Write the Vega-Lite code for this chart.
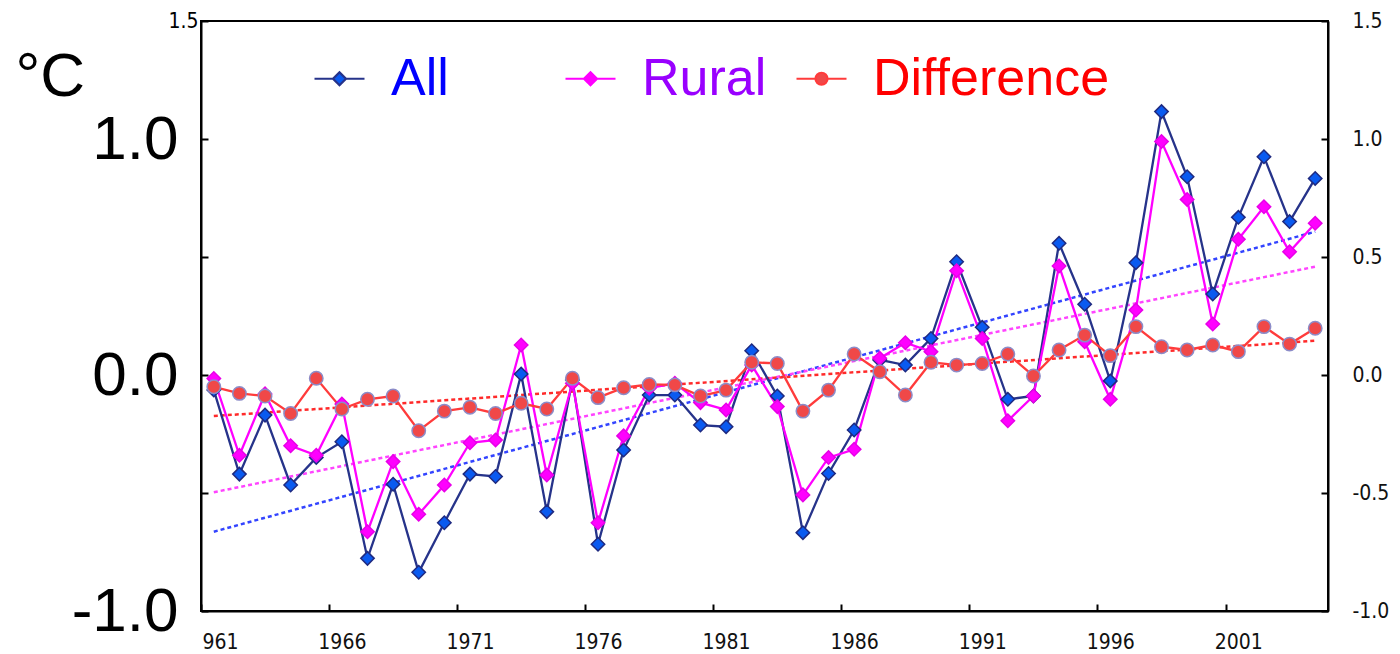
{
  "$schema": "https://vega.github.io/schema/vega-lite/v6.json",
  "width": 1127,
  "height": 590,
  "autosize": "none",
  "padding": {"left": 201, "top": 21, "right": 72, "bottom": 43},
  "background": "white",
  "datasets": {
    "series": [
      {"year": 1961, "All": -0.064, "Rural": -0.015, "Difference": -0.05},
      {"year": 1962, "All": -0.42, "Rural": -0.34, "Difference": -0.078},
      {"year": 1963, "All": -0.17, "Rural": -0.08, "Difference": -0.089},
      {"year": 1964, "All": -0.466, "Rural": -0.3, "Difference": -0.163},
      {"year": 1965, "All": -0.35, "Rural": -0.34, "Difference": -0.014},
      {"year": 1966, "All": -0.283, "Rural": -0.123, "Difference": -0.144},
      {"year": 1967, "All": -0.777, "Rural": -0.664, "Difference": -0.103},
      {"year": 1968, "All": -0.463, "Rural": -0.367, "Difference": -0.089},
      {"year": 1969, "All": -0.836, "Rural": -0.59, "Difference": -0.236},
      {"year": 1970, "All": -0.626, "Rural": -0.466, "Difference": -0.153},
      {"year": 1971, "All": -0.42, "Rural": -0.287, "Difference": -0.137},
      {"year": 1972, "All": -0.43, "Rural": -0.275, "Difference": -0.163},
      {"year": 1973, "All": 0.004, "Rural": 0.127, "Difference": -0.12},
      {"year": 1974, "All": -0.579, "Rural": -0.424, "Difference": -0.144},
      {"year": 1975, "All": -0.021, "Rural": -0.035, "Difference": -0.014},
      {"year": 1976, "All": -0.717, "Rural": -0.626, "Difference": -0.096},
      {"year": 1977, "All": -0.318, "Rural": -0.258, "Difference": -0.054},
      {"year": 1978, "All": -0.085, "Rural": -0.056, "Difference": -0.04},
      {"year": 1979, "All": -0.085, "Rural": -0.035, "Difference": -0.042},
      {"year": 1980, "All": -0.212, "Rural": -0.117, "Difference": -0.089},
      {"year": 1981, "All": -0.219, "Rural": -0.148, "Difference": -0.064},
      {"year": 1982, "All": 0.103, "Rural": 0.042, "Difference": 0.054},
      {"year": 1983, "All": -0.089, "Rural": -0.134, "Difference": 0.049},
      {"year": 1984, "All": -0.668, "Rural": -0.508, "Difference": -0.153},
      {"year": 1985, "All": -0.417, "Rural": -0.35, "Difference": -0.064},
      {"year": 1986, "All": -0.233, "Rural": -0.315, "Difference": 0.089},
      {"year": 1987, "All": 0.064, "Rural": 0.071, "Difference": 0.014},
      {"year": 1988, "All": 0.042, "Rural": 0.137, "Difference": -0.085},
      {"year": 1989, "All": 0.155, "Rural": 0.099, "Difference": 0.054},
      {"year": 1990, "All": 0.48, "Rural": 0.442, "Difference": 0.042},
      {"year": 1991, "All": 0.202, "Rural": 0.155, "Difference": 0.049},
      {"year": 1992, "All": -0.103, "Rural": -0.194, "Difference": 0.089},
      {"year": 1993, "All": -0.089, "Rural": -0.089, "Difference": -0.004},
      {"year": 1994, "All": 0.558, "Rural": 0.462, "Difference": 0.106},
      {"year": 1995, "All": 0.3, "Rural": 0.141, "Difference": 0.169},
      {"year": 1996, "All": -0.025, "Rural": -0.103, "Difference": 0.082},
      {"year": 1997, "All": 0.476, "Rural": 0.275, "Difference": 0.205},
      {"year": 1998, "All": 1.116, "Rural": 0.989, "Difference": 0.12},
      {"year": 1999, "All": 0.84, "Rural": 0.744, "Difference": 0.106},
      {"year": 2000, "All": 0.343, "Rural": 0.216, "Difference": 0.127},
      {"year": 2001, "All": 0.668, "Rural": 0.575, "Difference": 0.099},
      {"year": 2002, "All": 0.925, "Rural": 0.713, "Difference": 0.205},
      {"year": 2003, "All": 0.65, "Rural": 0.522, "Difference": 0.131},
      {"year": 2004, "All": 0.833, "Rural": 0.643, "Difference": 0.198}
    ],
    "trend": [
      {"series": "All", "year": 1961, "value": -0.664},
      {"series": "All", "year": 2004, "value": 0.607},
      {"series": "Rural", "year": 1961, "value": -0.497},
      {"series": "Rural", "year": 2004, "value": 0.459},
      {"series": "Difference", "year": 1961, "value": -0.174},
      {"series": "Difference", "year": 2004, "value": 0.145}
    ]
  },
  "layer": [
    {
      "mark": {"type": "rule", "stroke": "#222222", "strokeWidth": 2, "strokeDash": [17, 6, 3, 6]},
      "encoding": {
        "y": {"datum": 0, "type": "quantitative", "scale": {"domain": [-1, 1.5], "nice": false, "zero": false}, "axis": null}
      }
    },
    {
      "data": {"name": "trend"},
      "mark": {"type": "line", "strokeWidth": 2.5, "strokeDash": [4, 3]},
      "encoding": {
        "x": {"field": "year", "type": "quantitative", "scale": {"domain": [1960.5, 2004.5], "nice": false, "zero": false}, "axis": null},
        "y": {
          "field": "value", "type": "quantitative",
          "scale": {"domain": [-1, 1.5], "nice": false, "zero": false},
          "axis": {
            "orient": "right", "title": null,
            "values": [-1, -0.5, 0, 0.5, 1, 1.5],
            "labelExpr": "datum.value < 0 ? '-' + format(-datum.value, '.1f') : format(datum.value, '.1f')",
            "labelFont": "DejaVu Sans Condensed, DejaVu Sans",
            "labelFontSize": 21,
            "labelColor": "#111111",
            "labelPadding": 31,
            "labelOverlap": false
          }
        },
        "stroke": {
          "field": "series", "type": "nominal",
          "scale": {"domain": ["All", "Rural", "Difference"], "range": ["#3344FF", "#FF44FF", "#FF2A2A"]},
          "legend": null
        },
        "detail": {"field": "series"}
      }
    },
    {
      "data": {"name": "series"},
      "transform": [{"fold": ["All", "Rural", "Difference"], "as": ["series", "value"]}],
      "mark": {"type": "line", "strokeWidth": 2.3},
      "encoding": {
        "x": {
          "field": "year", "type": "quantitative",
          "scale": {"domain": [1960.5, 2004.5], "nice": false, "zero": false},
          "axis": {
            "orient": "bottom", "title": null,
            "values": [1961, 1966, 1971, 1976, 1981, 1986, 1991, 1996, 2001],
            "labelExpr": "datum.value == 1961 ? '961' : format(datum.value, 'd')",
            "labelFont": "DejaVu Sans Condensed, DejaVu Sans",
            "labelFontSize": 21,
            "labelColor": "#111111",
            "labelPadding": 27,
            "labelFlush": false,
            "labelOverlap": false,
            "tickOffset": -12.8,
            "labelOffset": {"condition": {"test": "datum.value == 1961", "value": 19}, "value": 12.8}
          }
        },
        "y": {
          "field": "value", "type": "quantitative",
          "scale": {"domain": [-1, 1.5], "nice": false, "zero": false},
          "axis": {
            "orient": "left",
            "values": [-1, -0.5, 0, 0.5, 1, 1.5],
            "labelExpr": "datum.value == 1.5 ? '1.5' : datum.value == 1 ? '1.0' : datum.value == 0 ? '0.0' : datum.value == -1 ? '-1.0' : ''",
            "labelFont": {"condition": {"test": "datum.value == 1.5", "value": "DejaVu Sans Condensed, DejaVu Sans"}, "value": "Liberation Sans"},
            "labelFontSize": {"condition": {"test": "datum.value == 1.5", "value": 21}, "value": 62},
            "labelPadding": {"condition": {"test": "datum.value == 1.5", "value": 10}, "value": 30},
            "labelColor": "#000000",
            "labelOverlap": false,
            "title": "°C",
            "titleAngle": 0,
            "titleAlign": "left",
            "titleBaseline": "alphabetic",
            "titleX": -186,
            "titleY": 74,
            "titleFont": "Liberation Sans",
            "titleFontSize": 62,
            "titleFontWeight": "normal",
            "titleColor": "#000000"
          }
        },
        "color": {
          "field": "series", "type": "nominal",
          "scale": {"domain": ["All", "Rural", "Difference"], "range": ["#26338A", "#FF00FF", "#FF3B3B"]},
          "legend": null
        }
      }
    },
    {
      "data": {"name": "series"},
      "transform": [{"fold": ["All", "Rural", "Difference"], "as": ["series", "value"]}],
      "mark": {"type": "point", "filled": true, "size": 180, "opacity": 1, "strokeWidth": 1.5},
      "encoding": {
        "x": {"field": "year", "type": "quantitative", "scale": {"domain": [1960.5, 2004.5], "nice": false, "zero": false}, "axis": null},
        "y": {"field": "value", "type": "quantitative", "scale": {"domain": [-1, 1.5], "nice": false, "zero": false}, "axis": null},
        "shape": {
          "field": "series", "type": "nominal",
          "scale": {"domain": ["All", "Rural", "Difference"], "range": ["diamond", "diamond", "circle"]},
          "legend": null
        },
        "fill": {
          "field": "series", "type": "nominal",
          "scale": {"domain": ["All", "Rural", "Difference"], "range": ["#0A5AF0", "#FF00FF", "#F04848"]},
          "legend": null
        },
        "stroke": {
          "field": "series", "type": "nominal",
          "scale": {"domain": ["All", "Rural", "Difference"], "range": ["#1F2A80", "#E800E8", "#8C8CC8"]},
          "legend": null
        }
      }
    },
    {
      "data": {"name": "series"},
      "transform": [{"fold": ["All", "Rural", "Difference"], "as": ["series", "value"]}, {"filter": "false"}],
      "mark": {"type": "point", "filled": true, "opacity": 1},
      "encoding": {
        "x": {"field": "year", "type": "quantitative", "scale": {"domain": [1960.5, 2004.5], "nice": false, "zero": false}, "axis": null},
        "y": {"field": "value", "type": "quantitative", "scale": {"domain": [-1, 1.5], "nice": false, "zero": false}, "axis": null},
        "shape": {
          "field": "series", "type": "nominal",
          "scale": {"domain": ["All", "Rural", "Difference"], "range": [
            "M-1,0H-0.26M0.26,0H1M0,-0.26L0.26,0L0,0.26L-0.26,0Z",
            "M-1,0H-0.26M0.26,0H1M0,-0.26L0.26,0L0,0.26L-0.26,0Z",
            "M-1,0H-0.24M0.24,0H1M0.24,0A0.24,0.24,0,1,1,-0.24,0A0.24,0.24,0,1,1,0.24,0Z"
          ]},
          "legend": {
            "title": null, "orient": "none", "legendX": 112, "legendY": 31, "direction": "horizontal",
            "labelFont": "Liberation Sans", "labelFontSize": 52, "labelLimit": 600, "labelOffset": 25,
            "labelColor": {"expr": "datum.value == 'All' ? '#0000FF' : datum.value == 'Rural' ? '#9900FF' : '#FF0000'"},
            "labelExpr": "datum.label == 'All' ? 'All      \u200b' : datum.label",
            "symbolSize": 2500, "symbolStrokeWidth": 2.2, "symbolOpacity": 1, "columnPadding": 25
          }
        },
        "fill": {
          "field": "series", "type": "nominal",
          "scale": {"domain": ["All", "Rural", "Difference"], "range": ["#0A5AF0", "#FF00FF", "#F04848"]},
          "legend": {
            "title": null, "orient": "none", "legendX": 112, "legendY": 31, "direction": "horizontal",
            "labelFont": "Liberation Sans", "labelFontSize": 52, "labelLimit": 600, "labelOffset": 25,
            "labelColor": {"expr": "datum.value == 'All' ? '#0000FF' : datum.value == 'Rural' ? '#9900FF' : '#FF0000'"},
            "labelExpr": "datum.label == 'All' ? 'All      \u200b' : datum.label",
            "symbolSize": 2500, "symbolStrokeWidth": 2.2, "symbolOpacity": 1, "columnPadding": 25
          }
        },
        "stroke": {
          "field": "series", "type": "nominal",
          "scale": {"domain": ["All", "Rural", "Difference"], "range": ["#26338A", "#FF00FF", "#FF3B3B"]},
          "legend": {
            "title": null, "orient": "none", "legendX": 112, "legendY": 31, "direction": "horizontal",
            "labelFont": "Liberation Sans", "labelFontSize": 52, "labelLimit": 600, "labelOffset": 25,
            "labelColor": {"expr": "datum.value == 'All' ? '#0000FF' : datum.value == 'Rural' ? '#9900FF' : '#FF0000'"},
            "labelExpr": "datum.label == 'All' ? 'All      \u200b' : datum.label",
            "symbolSize": 2500, "symbolStrokeWidth": 2.2, "symbolOpacity": 1, "columnPadding": 25
          }
        }
      }
    }
  ],
  "resolve": {
    "scale": {"color": "independent", "stroke": "independent", "fill": "independent", "shape": "independent"},
    "axis": {"x": "independent", "y": "independent"}
  },
  "config": {
    "view": {"stroke": "#000000", "strokeWidth": 2},
    "axis": {
      "grid": false,
      "domainColor": "#000000",
      "domainWidth": 2,
      "tickColor": "#000000",
      "tickWidth": 2,
      "tickSize": -7
    }
  }
}
